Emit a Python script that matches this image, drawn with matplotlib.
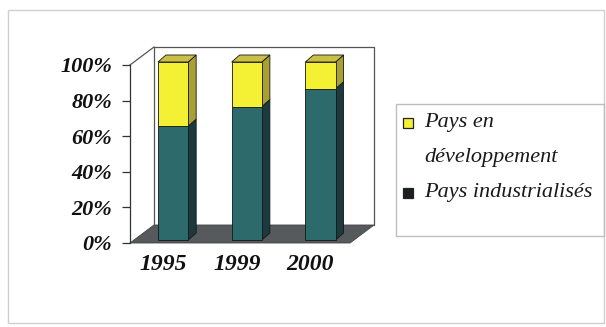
import matplotlib.pyplot as plt
from matplotlib.patches import Polygon, Rectangle
from matplotlib.transforms import ScaledTranslation

# Données
annees = ['1995', '1999', '2000']
industrialises = [64, 75, 85]
developpement = [36, 25, 15]
pct_ticks = [0, 20, 40, 60, 80, 100]
pct_labels = ['0%', '20%', '40%', '60%', '80%', '100%']
legende = [['Pays en', 'développement'], ['Pays industrialisés']]

W, H = 606, 327
fig = plt.figure(figsize=(W / 100, H / 100), dpi=100)
fig.patch.set_facecolor('white')

# axes = plan avant du graphique 3D (en pixels: x 130..350, y 65..243)
ax = fig.add_axes([130 / W, (H - 243) / H, 220 / W, 178 / H])
x0, x1 = -0.53, 2.455
ax.set_xlim(x0, x1)
ax.set_ylim(0, 100)
ax.patch.set_alpha(0)

# conversion pixels -> unités de données
ux = (x1 - x0) / 220
uy = 100 / 178

# profondeur du plancher/mur et des barres
dfx, dfy = 24 * ux, 18 * uy
dbx, dby = 8 * ux, 7 * uy
offx, offy = 4 * ux, 3 * uy
w = 0.41

# plancher
ax.add_patch(Polygon([(x0, 0), (x1, 0), (x1 + dfx, dfy), (x0 + dfx, dfy)],
                     closed=True, fc='#575a5c', ec='#404040', lw=0.6,
                     clip_on=False, zorder=1))
# mur du fond
ax.plot([x0 + dfx, x0 + dfx, x1 + dfx, x1 + dfx],
        [dfy, 100 + dfy, 100 + dfy, dfy],
        color='#555555', lw=0.9, clip_on=False, zorder=1)
ax.plot([x0, x0 + dfx], [100, 100 + dfy], color='#555555', lw=0.9,
        clip_on=False, zorder=1)


def barre3d(xc, y0, y1, side, top=None):
    xl = xc - w / 2 + offx
    xr = xc + w / 2 + offx
    b, t = y0 + offy, y1 + offy
    ax.add_patch(Polygon([(xr, b), (xr + dbx, b + dby), (xr + dbx, t + dby), (xr, t)],
                         closed=True, fc=side, ec='#151515', lw=0.6,
                         clip_on=False, zorder=3))
    if top is not None:
        ax.add_patch(Polygon([(xl, t), (xr, t), (xr + dbx, t + dby), (xl + dbx, t + dby)],
                             closed=True, fc=top, ec='#151515', lw=0.6,
                             clip_on=False, zorder=3))


pos = list(range(len(annees)))
shift = ScaledTranslation(4 / 100, 3 / 100, fig.dpi_scale_trans)
ax.bar(pos, industrialises, width=w, color='#2d6a6c', edgecolor='#151515',
       lw=0.6, transform=ax.transData + shift, zorder=4, clip_on=False)
ax.bar(pos, developpement, width=w, bottom=industrialises, color='#f4f034',
       edgecolor='#151515', lw=0.6, transform=ax.transData + shift,
       zorder=4, clip_on=False)
for i in pos:
    barre3d(i, 0, industrialises[i], '#1c3a3d')
    barre3d(i, industrialises[i], industrialises[i] + developpement[i],
            '#a9a034', '#c9c045')

# axe vertical avant
for s in ['top', 'right', 'bottom']:
    ax.spines[s].set_visible(False)
ax.spines['left'].set_color('#333333')
ax.spines['left'].set_linewidth(0.9)
ax.set_yticks(pct_ticks)
ax.set_yticklabels(pct_labels, family='Liberation Serif', weight='bold',
                   style='italic', fontsize=16, color='#111111')
ax.tick_params(axis='y', length=6, width=0.9, color='#333333', pad=7)

ax.set_xticks(pos)
ax.set_xticklabels(annees, family='Liberation Serif', weight='bold',
                   style='italic', fontsize=17, color='#111111')
ax.tick_params(axis='x', length=0, pad=8)
for lab in ax.get_xticklabels():
    lab.set_transform(lab.get_transform() + ScaledTranslation(-6 / 100, 0, fig.dpi_scale_trans))


def px(x, y):
    return x / W, 1 - y / H


# cadre extérieur
fig.add_artist(Rectangle(px(8, 323), 596 / W, 313 / H, transform=fig.transFigure,
                         fill=False, ec='#cfcfcf', lw=1.0))

# légende
fig.add_artist(Rectangle(px(396, 236), 208 / W, 132 / H, transform=fig.transFigure,
                         fill=False, ec='#bdbdbd', lw=1.0))
couleurs = ['#f4f034', '#1b1f1f']
marques = [123, 193]
bases = [[127, 162], [197]]
for lignes, c, ym, yb in zip(legende, couleurs, marques, bases):
    fig.add_artist(Rectangle(px(403, ym + 5), 10 / W, 10 / H, transform=fig.transFigure,
                             fc=c, ec='#222222', lw=0.9))
    for txt, b in zip(lignes, yb):
        fig.text(*px(424, b), txt, family='Liberation Serif', style='italic',
                 fontsize=16, va='baseline', ha='left', color='#1a1a1a')

fig.savefig('out.png', dpi=100)
